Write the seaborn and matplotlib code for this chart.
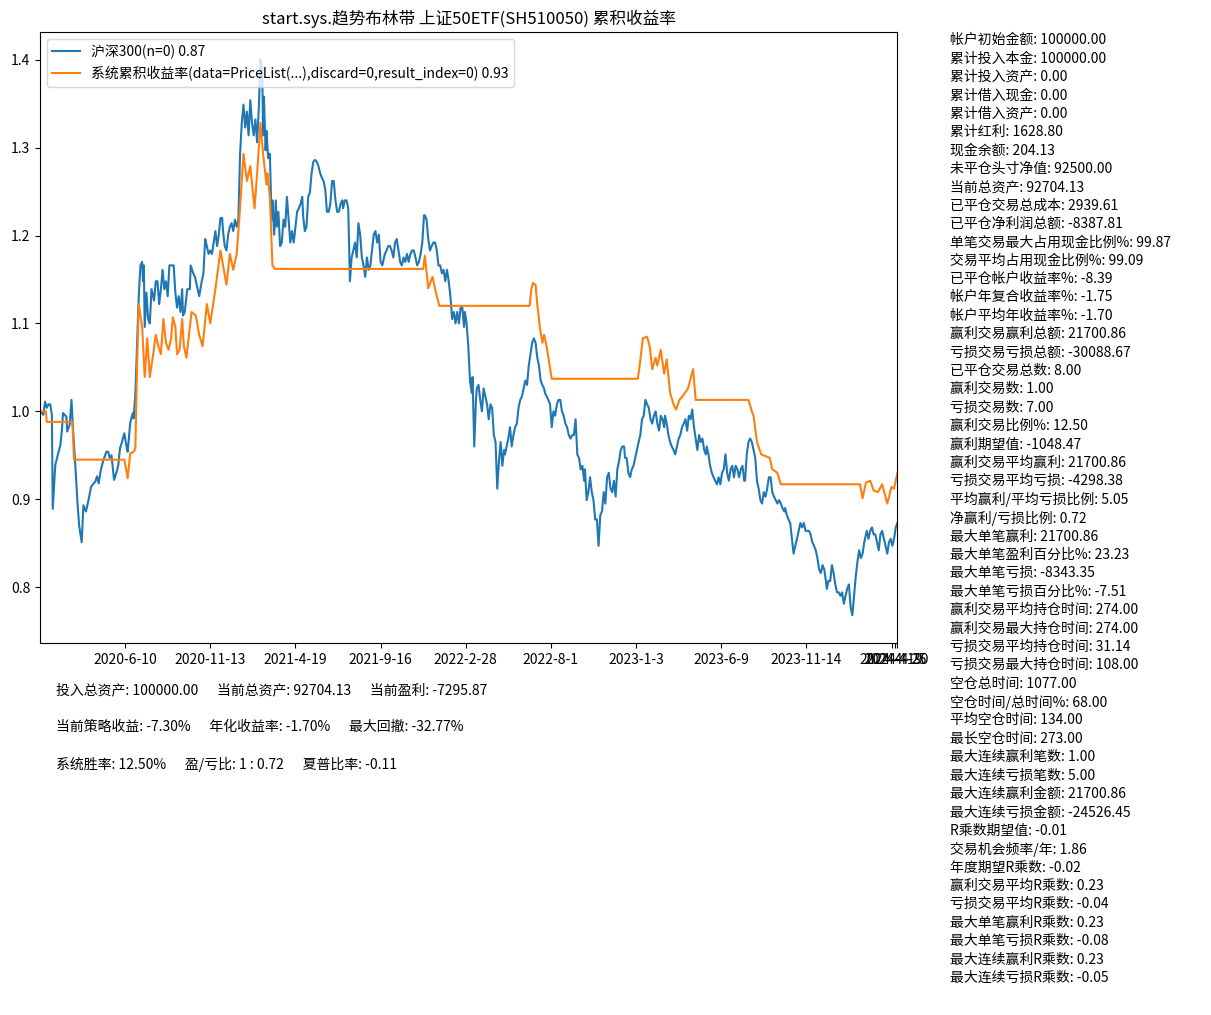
import numpy as np
import pandas as pd
import matplotlib
matplotlib.use('Agg')
import matplotlib.pyplot as plt
import seaborn as sns

# 沪深300 cumulative (bar index, value)
hs300_idx = [0, 4, 6, 8, 10, 12, 14, 15, 18, 22, 24, 26, 27, 31, 32, 35, 37, 39, 41, 44, 46, 49, 51, 54, 57, 60,
             63, 65, 67, 69, 71, 74, 78, 80, 82, 84, 87, 90, 92, 94, 96, 99, 102, 103, 106, 109, 110, 112,
             116, 118, 120, 121, 122, 123, 125, 127, 129, 131, 134, 136, 138, 140, 142, 144, 146, 148, 150, 152,
             155, 157, 159, 161, 163, 165, 167, 168, 170, 173, 176, 177, 180, 182, 184, 187, 190, 192, 194, 196,
             198, 200, 202, 204, 206, 208, 210, 212, 214, 215, 217, 219, 221, 223, 225, 227, 229, 231, 233, 235,
             237, 239, 241, 243, 245, 247, 249, 251, 253, 255, 257, 259, 261, 262, 263, 265, 266, 268, 270, 272,
             273, 275, 277, 278, 280, 282, 284, 286, 288, 290, 292, 294, 296, 298, 300, 302, 304, 306, 308, 309,
             311, 313, 315, 317, 319, 321, 323, 325, 327, 329, 331, 333, 335, 337, 339, 341, 343, 345, 347, 349,
             351, 353, 355, 356, 358, 360, 362, 364, 366, 368, 370, 372, 374, 376, 378, 380, 382, 384, 386, 388,
             390, 392, 394, 396, 398, 400, 402, 404, 405, 407, 409, 411, 413, 415, 417, 419, 421, 423, 425, 427,
             429, 431, 433, 435, 437, 439, 441, 443, 445, 447, 449, 451, 452, 454, 456, 458, 460, 462, 464, 466,
             468, 470, 472, 474, 476, 478, 480, 482, 484, 486, 488, 490, 492, 494, 496, 498, 499, 501, 503, 505,
             507, 508, 510, 512, 513, 515, 517, 519, 521, 523, 525, 527, 529, 531, 533, 535, 537, 539, 541, 543,
             545, 546, 548, 550, 552, 554, 556, 558, 560, 562, 564, 566, 568, 570, 572, 574, 576, 578, 580, 582,
             584, 586, 588, 590, 592, 593, 595, 597, 599, 601, 603, 605, 607, 609, 611, 613, 615, 617, 619, 621,
             623, 625, 627, 629, 631, 633, 635, 637, 639, 640, 642, 644, 646, 648, 650, 652, 654, 656, 658, 660,
             662, 664, 666, 668, 670, 672, 674, 676, 678, 680, 682, 684, 686, 687, 689, 691, 693, 695, 697, 699,
             701, 703, 705, 707, 709, 711, 713, 715, 717, 719, 721, 723, 725, 727, 729, 731, 733, 734, 736, 738,
             740, 742, 744, 746, 748, 750, 752, 754, 756, 758, 760, 762, 764, 766, 768, 770, 772, 774, 776, 778,
             780, 782, 783, 785, 787, 789, 791, 793, 795, 797, 799, 801, 803, 805, 807, 809, 811, 813, 815, 817,
             819, 821, 823, 825, 827, 828, 830, 832, 834, 836, 838, 840, 842, 844, 846, 848, 850, 852, 854, 856,
             858, 860, 862, 864, 866, 868, 870, 872, 874, 875, 877, 879, 881, 883, 885, 887, 889, 891, 893, 895,
             897, 899, 901, 903, 905, 907, 909, 911, 913, 915, 917, 919, 921, 923, 924, 926, 928, 930, 932, 934,
             936, 938, 940, 942, 944, 946, 948, 950, 952, 954, 956, 958, 960, 962, 964, 966, 968, 970, 971, 973,
             975, 977, 979, 981, 983, 985, 987, 989, 991, 993, 995, 997, 999, 1001, 1003, 1005, 1007]
hs300_val = [1.000, 0.996, 1.011, 1.004, 1.008, 1.008, 0.996, 0.889, 0.939, 0.954, 0.962, 0.981, 0.998, 0.994,
             0.977, 0.985, 1.013, 0.977, 0.947, 0.897, 0.870, 0.851, 0.893, 0.886, 0.899, 0.914, 0.918, 0.920,
             0.926, 0.918, 0.931, 0.943, 0.954, 0.954, 0.947, 0.950, 0.922, 0.931, 0.939, 0.958, 0.964, 0.975,
             0.958, 0.954, 0.987, 0.998, 0.992, 1.019,
             1.131, 1.166, 1.170, 1.148, 1.166, 1.096, 1.135, 1.105, 1.100, 1.139, 1.126, 1.148, 1.148, 1.122,
             1.139, 1.161, 1.139, 1.148, 1.131, 1.166, 1.166, 1.166, 1.135, 1.118, 1.131, 1.113, 1.139, 1.109,
             1.113, 1.139, 1.139, 1.166, 1.157, 1.153, 1.144, 1.131, 1.148, 1.157, 1.196, 1.188, 1.179, 1.183,
             1.179, 1.192, 1.205, 1.188, 1.201, 1.220, 1.220, 1.205, 1.188, 1.183, 1.201, 1.210, 1.214, 1.205,
             1.218, 1.210, 1.218, 1.293, 1.328, 1.349, 1.323, 1.341, 1.314, 1.354, 1.328, 1.314, 1.332, 1.306,
             1.345, 1.400, 1.389, 1.314, 1.358, 1.297, 1.319, 1.288, 1.293, 1.218, 1.240, 1.201, 1.240, 1.210,
             1.227, 1.188, 1.192, 1.218, 1.210, 1.244, 1.218, 1.192, 1.205, 1.192, 1.210, 1.227, 1.231, 1.236,
             1.244, 1.223, 1.205, 1.210, 1.244, 1.249, 1.271, 1.284, 1.286, 1.284, 1.279, 1.271, 1.266, 1.262,
             1.253, 1.227, 1.227, 1.236, 1.262, 1.262, 1.240, 1.227, 1.227, 1.236, 1.240, 1.231, 1.240, 1.240,
             1.231, 1.148, 1.175, 1.183, 1.192, 1.175, 1.214, 1.201, 1.175, 1.166, 1.153, 1.175, 1.161, 1.166,
             1.183, 1.201, 1.205, 1.192, 1.201, 1.170, 1.166, 1.175, 1.179, 1.183, 1.188, 1.188, 1.183, 1.175,
             1.192, 1.196, 1.183, 1.170, 1.166, 1.175, 1.170, 1.179, 1.170, 1.179, 1.183, 1.183, 1.175, 1.166,
             1.170, 1.179, 1.192, 1.223, 1.223, 1.218, 1.196, 1.183, 1.188, 1.192, 1.192, 1.183, 1.166, 1.166,
             1.157, 1.161, 1.148, 1.161, 1.148, 1.131, 1.105, 1.113, 1.100, 1.113, 1.100, 1.118, 1.118, 1.096,
             1.113, 1.100, 1.074, 1.035, 1.021, 1.039, 0.960, 1.013, 1.026, 1.030, 1.013, 1.000, 1.026, 1.017,
             1.008, 0.991, 1.008, 1.004, 0.973, 0.965, 0.912, 0.943, 0.965, 0.938, 0.956, 0.951, 0.960, 0.969,
             0.982, 0.960, 0.973, 0.982, 0.986, 1.004, 1.013, 1.017, 1.026, 1.035, 1.030, 1.052, 1.065, 1.078,
             1.083, 1.078, 1.061, 1.052, 1.035, 1.030, 1.026, 1.021, 1.017, 1.013, 1.008, 0.982, 1.000, 0.995,
             1.008, 1.013, 1.013, 1.000, 0.995, 0.986, 0.982, 0.973, 0.969, 0.973, 0.973, 0.991, 0.951, 0.947,
             0.934, 0.938, 0.921, 0.934, 0.899, 0.908, 0.925, 0.908, 0.899, 0.877, 0.877, 0.847, 0.882, 0.886,
             0.908, 0.895, 0.925, 0.930, 0.912, 0.908, 0.921, 0.903, 0.934, 0.943, 0.956, 0.960, 0.960, 0.947,
             0.947, 0.930, 0.925, 0.934, 0.938, 0.947, 0.956, 0.965, 0.973, 0.991, 0.995, 1.013, 1.008, 1.004,
             0.991, 0.986, 0.995, 1.000, 0.986, 0.978, 0.995, 0.991, 0.982, 0.995, 0.986, 0.973, 0.965, 0.960,
             0.956, 0.951, 0.960, 0.969, 0.973, 0.982, 0.986, 0.991, 0.978, 0.995, 0.991, 1.002, 0.982, 0.969,
             0.956, 0.973, 0.965, 0.969, 0.956, 0.951, 0.960, 0.951, 0.938, 0.930, 0.925, 0.921, 0.917, 0.925,
             0.917, 0.930, 0.934, 0.951, 0.930, 0.921, 0.934, 0.938, 0.925, 0.938, 0.934, 0.925, 0.934, 0.938,
             0.921, 0.921, 0.951, 0.965, 0.969, 0.965, 0.956, 0.947, 0.921, 0.912, 0.899, 0.895, 0.908, 0.903,
             0.912, 0.925, 0.925, 0.908, 0.903, 0.899, 0.895, 0.899, 0.895, 0.890, 0.886, 0.890, 0.882, 0.877,
             0.873, 0.855, 0.838, 0.847, 0.855, 0.864, 0.873, 0.868, 0.873, 0.864, 0.864, 0.864, 0.860, 0.851,
             0.847, 0.842, 0.833, 0.820, 0.816, 0.825, 0.820, 0.807, 0.798, 0.807, 0.807, 0.825, 0.816, 0.803,
             0.794, 0.794, 0.790, 0.794, 0.781, 0.790, 0.798, 0.803, 0.777, 0.768, 0.790, 0.812, 0.829, 0.842,
             0.833, 0.838, 0.851, 0.860, 0.864, 0.855, 0.864, 0.868, 0.860, 0.860, 0.851, 0.842, 0.860, 0.864,
             0.855, 0.847, 0.838, 0.851, 0.855, 0.847, 0.855, 0.868, 0.873]

# 系统累积收益率 (bar index, value)
sys_idx = [0, 7, 8, 38, 40, 99, 101, 103, 106, 110, 112, 114, 116, 120, 123, 126, 129, 133, 136, 139, 142, 145,
           148, 151, 154, 156, 159, 161, 164, 167, 169, 172, 178, 183, 187, 191, 196, 200, 206, 212, 215, 219,
           223, 227, 231, 234, 239, 243, 247, 252, 255, 259, 262, 266, 267, 270, 273, 276, 450, 452, 456, 461,
           465, 469, 575, 577, 579, 582, 584, 587, 590, 592, 595, 601, 702, 704, 708, 713, 716, 719, 723, 725,
           729, 733, 736, 740, 744, 747, 751, 756, 761, 767, 770, 832, 836, 838, 842, 847, 857, 860, 866, 870,
           963, 966, 970, 975, 979, 984, 989, 995, 1000, 1003, 1007]
sys_val = [1.000, 1.000, 0.988, 0.988, 0.945, 0.945, 0.935, 0.924, 0.952, 0.954, 0.958, 1.050, 1.122, 1.096,
           1.039, 1.083, 1.039, 1.065, 1.087, 1.074, 1.065, 1.105, 1.078, 1.070, 1.083, 1.107, 1.096, 1.065,
           1.070, 1.105, 1.074, 1.061, 1.113, 1.109, 1.087, 1.074, 1.122, 1.100, 1.139, 1.183, 1.166, 1.144,
           1.179, 1.161, 1.179, 1.218, 1.293, 1.262, 1.279, 1.231, 1.271, 1.328, 1.293, 1.258, 1.271, 1.244,
           1.166, 1.162, 1.162, 1.177, 1.140, 1.153, 1.135, 1.120, 1.120, 1.139, 1.146, 1.144, 1.122, 1.096,
           1.078, 1.087, 1.074, 1.037, 1.037, 1.050, 1.083, 1.085, 1.074, 1.048, 1.061, 1.052, 1.070, 1.043,
           1.059, 1.021, 1.008, 1.002, 1.013, 1.019, 1.026, 1.048, 1.013, 1.013, 1.000, 0.995, 0.965, 0.951,
           0.947, 0.934, 0.930, 0.917, 0.917, 0.901, 0.919, 0.921, 0.910, 0.908, 0.917, 0.895, 0.914, 0.912,
           0.930]

tick_pos = [100, 200, 300, 400, 500, 600, 700, 800, 900, 1000, 1004, 1007]
tick_labels = ['2020-6-10', '2020-11-13', '2021-4-19', '2021-9-16', '2022-2-28', '2022-8-1', '2023-1-3',
               '2023-6-9', '2023-11-14', '2024-4-19', '2024-4-25', '2024-4-30']

title = 'start.sys.趋势布林带 上证50ETF(SH510050) 累积收益率'
label_hs300 = '沪深300(n=0) 0.87'
label_sys = '系统累积收益率(data=PriceList(...),discard=0,result_index=0) 0.93'

gap = ' ' * 6
summary_lines = [
    gap.join(['投入总资产: 100000.00', '当前总资产: 92704.13', '当前盈利: -7295.87']),
    gap.join(['当前策略收益: -7.30%', '年化收益率: -1.70%', '最大回撤: -32.77%']),
    gap.join(['系统胜率: 12.50%', '盈/亏比: 1 : 0.72', '夏普比率: -0.11']),
]

stats_lines = [
    '帐户初始金额: 100000.00', '累计投入本金: 100000.00', '累计投入资产: 0.00', '累计借入现金: 0.00',
    '累计借入资产: 0.00', '累计红利: 1628.80', '现金余额: 204.13', '未平仓头寸净值: 92500.00',
    '当前总资产: 92704.13', '已平仓交易总成本: 2939.61', '已平仓净利润总额: -8387.81',
    '单笔交易最大占用现金比例%: 99.87', '交易平均占用现金比例%: 99.09', '已平仓帐户收益率%: -8.39',
    '帐户年复合收益率%: -1.75', '帐户平均年收益率%: -1.70', '赢利交易赢利总额: 21700.86',
    '亏损交易亏损总额: -30088.67', '已平仓交易总数: 8.00', '赢利交易数: 1.00', '亏损交易数: 7.00',
    '赢利交易比例%: 12.50', '赢利期望值: -1048.47', '赢利交易平均赢利: 21700.86',
    '亏损交易平均亏损: -4298.38', '平均赢利/平均亏损比例: 5.05', '净赢利/亏损比例: 0.72',
    '最大单笔赢利: 21700.86', '最大单笔盈利百分比%: 23.23', '最大单笔亏损: -8343.35',
    '最大单笔亏损百分比%: -7.51', '赢利交易平均持仓时间: 274.00', '赢利交易最大持仓时间: 274.00',
    '亏损交易平均持仓时间: 31.14', '亏损交易最大持仓时间: 108.00', '空仓总时间: 1077.00',
    '空仓时间/总时间%: 68.00', '平均空仓时间: 134.00', '最长空仓时间: 273.00', '最大连续赢利笔数: 1.00',
    '最大连续亏损笔数: 5.00', '最大连续赢利金额: 21700.86', '最大连续亏损金额: -24526.45',
    'R乘数期望值: -0.01', '交易机会频率/年: 1.86', '年度期望R乘数: -0.02', '赢利交易平均R乘数: 0.23',
    '亏损交易平均R乘数: -0.04', '最大单笔赢利R乘数: 0.23', '最大单笔亏损R乘数: -0.08',
    '最大连续赢利R乘数: 0.23', '最大连续亏损R乘数: -0.05',
]

plt.rcParams['font.family'] = ['Noto Sans CJK SC', 'DejaVu Sans']
plt.rcParams['axes.unicode_minus'] = False

hs = pd.DataFrame({'idx': hs300_idx, 'val': hs300_val})
sy = pd.DataFrame({'idx': sys_idx, 'val': sys_val})

fig = plt.figure(figsize=(12.11, 10.15), dpi=100)
ax = fig.add_axes([0.0330, 0.3665, 0.7081, 0.602])

sns.lineplot(data=hs, x='idx', y='val', ax=ax, color='#1f77b4', linewidth=1.5,
             estimator=None, label=label_hs300)
sns.lineplot(data=sy, x='idx', y='val', ax=ax, color='#ff7f0e', linewidth=1.5,
             estimator=None, label=label_sys)

ax.set_xlim(0, 1007)
ax.set_xticks(tick_pos)
ax.set_xticklabels(tick_labels)
ax.set_xlabel('')
ax.set_ylabel('')
ax.set_title(title, fontsize=12)
ax.legend(loc='upper left')

# bottom summary
for i, line in enumerate(summary_lines):
    fig.text(56 / 1211, 1 - (690 + 37 * i) / 1015, line, va='center', ha='left', fontsize=10)

# right-hand statistics column
for i, line in enumerate(stats_lines):
    fig.text(950 / 1211, 1 - (40 + 18.39 * i) / 1015, line, va='center', ha='left', fontsize=10)

fig.savefig('out.png', dpi=100)
